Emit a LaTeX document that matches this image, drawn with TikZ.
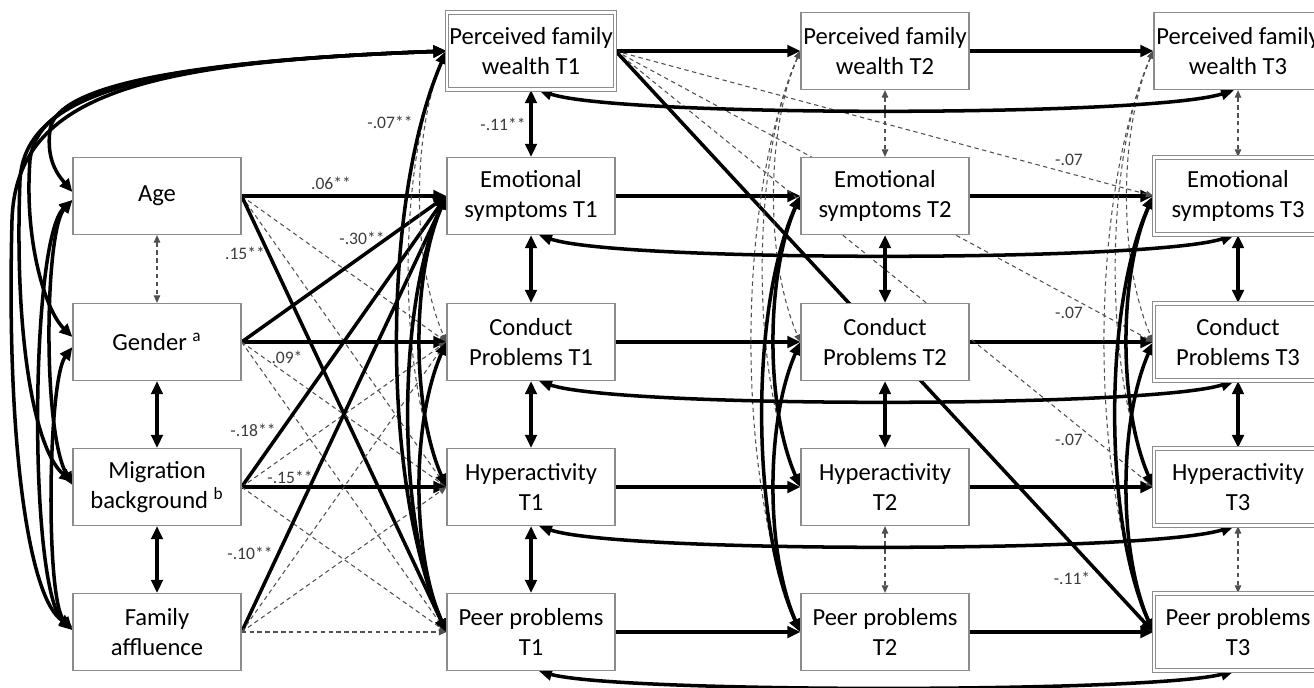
\documentclass[tikz,border=0pt]{standalone}
\usepackage{fontspec}
\setmainfont{Carlito}
\usepackage{tikz}
\usetikzlibrary{arrows.meta}
\usetikzlibrary{positioning,calc}
\definecolor{boxgray}{HTML}{8C8C8C}
\definecolor{nsgray}{HTML}{505050}
\definecolor{coefgray}{HTML}{3C3C3C}
\pgfdeclarelayer{bg}
\pgfsetlayers{bg,main}
\tikzset{
    var/.style={
        draw=boxgray,
        fill=white,
        line width=0.7pt,
        minimum width=3.36cm,
        minimum height=1.54cm,
        inner sep=1pt,
        align=center,
        font=\fontsize{14}{17}\selectfont
    },
    dvar/.style={
        var,
        double,
        double distance=1.2pt
    },
    regr/.style={
        draw,
        line width=2pt,
        -{Triangle[length=2.6mm, width=2.3mm]}
    },
    covar/.style={
        draw,
        line width=2pt,
        {Triangle[length=2.6mm, width=2.3mm]}-{Triangle[length=2.6mm, width=2.3mm]}
    },
    nsregr/.style={
        draw=nsgray,
        line width=0.6pt,
        dash pattern=on 2.5pt off 2pt,
        -{Triangle[length=1.5mm, width=1.3mm]}
    },
    nscovar/.style={
        draw=nsgray,
        line width=0.6pt,
        dash pattern=on 2.5pt off 2pt,
        {Triangle[length=1.5mm, width=1.3mm]}-{Triangle[length=1.5mm, width=1.3mm]}
    }
}

\begin{document}
\begin{tikzpicture}[
    x = 0.02cm,
    y = -0.02cm,
    coef/.style = {font=\fontsize{10}{12}\selectfont, text=coefgray, inner sep=0pt}
]
\useasboundingbox (0,0) rectangle (1314,687);
\clip (0,0) rectangle (1314,687);

% Covariates
\node[var] (age)    at (157,196) {Age};
\node[var] (gender) at (157,342) {Gender \textsuperscript{a}};
\node[var] (migr)   at (157,487) {Migration\\background \textsuperscript{b}};
\node[var] (affl)   at (157,632) {Family\\affluence};

% Wave 1
\node[dvar] (pfw1)  at (531,51)  {Perceived family\\wealth T1};
\node[var]  (emo1)  at (531,196) {Emotional\\symptoms T1};
\node[var]  (cond1) at (531,342) {Conduct\\Problems T1};
\node[var]  (hyp1)  at (531,487) {Hyperactivity\\T1};
\node[var]  (peer1) at (531,632) {Peer problems\\T1};

% Wave 2
\node[var] (pfw2)  at (885,51)  {Perceived family\\wealth T2};
\node[var] (emo2)  at (885,196) {Emotional\\symptoms T2};
\node[var] (cond2) at (885,342) {Conduct\\Problems T2};
\node[var] (hyp2)  at (885,487) {Hyperactivity\\T2};
\node[var] (peer2) at (885,632) {Peer problems\\T2};

% Wave 3
\node[var]  (pfw3)  at (1238,51)  {Perceived family\\wealth T3};
\node[dvar] (emo3)  at (1238,196) {Emotional\\symptoms T3};
\node[dvar] (cond3) at (1238,342) {Conduct\\Problems T3};
\node[dvar] (hyp3)  at (1238,487) {Hyperactivity\\T3};
\node[dvar] (peer3) at (1238,632) {Peer problems\\T3};

\begin{pgfonlayer}{bg}
% Covariates -> wave 1
\draw[regr]   (age.east) -- (emo1.west);
\draw[nsregr] (age.east) -- (cond1.west);
\draw[nsregr] (age.east) -- (hyp1.west);
\draw[regr]   (age.east) -- (peer1.west);
\draw[regr]   (gender.east) -- (emo1.west);
\draw[regr]   (gender.east) -- (cond1.west);
\draw[nsregr] (gender.east) -- (hyp1.west);
\draw[nsregr] (gender.east) -- (peer1.west);
\draw[regr]   (migr.east) -- (emo1.west);
\draw[nsregr] (migr.east) -- (cond1.west);
\draw[regr]   (migr.east) -- (hyp1.west);
\draw[nsregr] (migr.east) -- (peer1.west);
\draw[regr]   (affl.east) -- (emo1.west);
\draw[nsregr] (affl.east) -- (cond1.west);
\draw[nsregr] (affl.east) -- (hyp1.west);
\draw[nsregr] (affl.east) -- (peer1.west);

% Covariances among covariates
\draw[nscovar] (age) -- (gender);
\draw[covar] (gender) -- (migr);
\draw[covar] (migr) -- (affl);
\draw[covar] ($(age.west)+(0,4)$) .. controls (45,230) and (42,430) .. ($(migr.west)+(0,-2)$);
\draw[covar] ($(age.west)+(0,4)$) .. controls (30,240) and (28,590) .. ($(affl.west)+(0,-2)$);
\draw[covar] ($(gender.west)+(0,5)$) .. controls (48,380) and (45,600) .. ($(affl.west)+(0,-2)$);

% Perceived family wealth T1 with the covariates
\draw[covar] (pfw1.west) .. controls (150,62) and (55,92) .. (50,130) .. controls (46,160) and (58,175) .. ($(age.west)+(0,-4)$);
\draw[covar] (pfw1.west) .. controls (150,62) and (38,92) .. (30,160) .. controls (24,240) and (45,310) .. ($(gender.west)+(0,-5)$);
\draw[covar] (pfw1.west) .. controls (150,62) and (25,92) .. (20,180) .. controls (14,340) and (35,450) .. ($(migr.west)+(0,-5)$);
\draw[covar] (pfw1.west) .. controls (150,62) and (16,92) .. (12,220) .. controls (6,450) and (30,600) .. ($(affl.west)+(0,-5)$);

% Stability paths
\draw[regr] (pfw1.east) -- (pfw2.west);
\draw[regr] (emo1.east) -- (emo2.west);
\draw[regr] (cond1.east) -- (cond2.west);
\draw[regr] (hyp1.east) -- (hyp2.west);
\draw[regr] (peer1.east) -- (peer2.west);
\draw[regr] (pfw2.east) -- (pfw3.west);
\draw[regr] (emo2.east) -- (emo3.west);
\draw[regr] (cond2.east) -- (cond3.west);
\draw[regr] (hyp2.east) -- (hyp3.west);
\draw[regr] (peer2.east) -- (peer3.west);

% Perceived family wealth T1 -> wave 3
\draw[nsregr] (pfw1.east) -- (emo3.west);
\draw[nsregr] (pfw1.east) -- (cond3.west);
\draw[nsregr] (pfw1.east) -- (hyp3.west);
\draw[regr]   (pfw1.east) -- (peer3.west);

% Covariances within each wave
\draw[covar] (pfw1) -- (emo1);
\draw[covar] (emo1) -- (cond1);
\draw[covar] (cond1) -- (hyp1);
\draw[covar] (hyp1) -- (peer1);
\draw[nscovar] (pfw2) -- (emo2);
\draw[covar] (emo2) -- (cond2);
\draw[covar] (cond2) -- (hyp2);
\draw[nscovar] (hyp2) -- (peer2);
\draw[nscovar] (pfw3) -- (emo3);
\draw[covar] (emo3) -- (cond3);
\draw[covar] (cond3) -- (hyp3);
\draw[nscovar] (hyp3) -- (peer3);

% Non-adjacent covariances, wave 1
\draw[nscovar] (pfw1.west) .. controls +(-35,80) and +(-35,-80) .. (cond1.west);
\draw[nscovar] (pfw1.west) .. controls +(-50,110) and +(-50,-110) .. (hyp1.west);
\draw[covar] (pfw1.west) .. controls +(-65,150) and +(-65,-150) .. (peer1.west);
\draw[covar] (emo1.west) .. controls +(-35,80) and +(-35,-80) .. (hyp1.west);
\draw[covar] (emo1.west) .. controls +(-50,110) and +(-50,-110) .. (peer1.west);
\draw[covar] (cond1.west) .. controls +(-35,80) and +(-35,-80) .. (peer1.west);

% Non-adjacent covariances, wave 2
\draw[nscovar] (pfw2.west) .. controls +(-35,80) and +(-35,-80) .. (cond2.west);
\draw[nscovar] (pfw2.west) .. controls +(-50,110) and +(-50,-110) .. (hyp2.west);
\draw[nscovar] (pfw2.west) .. controls +(-65,150) and +(-65,-150) .. (peer2.west);
\draw[covar] (emo2.west) .. controls +(-35,80) and +(-35,-80) .. (hyp2.west);
\draw[covar] (emo2.west) .. controls +(-50,110) and +(-50,-110) .. (peer2.west);
\draw[covar] (cond2.west) .. controls +(-35,80) and +(-35,-80) .. (peer2.west);

% Non-adjacent covariances, wave 3
\draw[nscovar] (pfw3.west) .. controls +(-35,80) and +(-35,-80) .. (cond3.west);
\draw[nscovar] (pfw3.west) .. controls +(-50,110) and +(-50,-110) .. (hyp3.west);
\draw[nscovar] (pfw3.west) .. controls +(-65,150) and +(-65,-150) .. (peer3.west);
\draw[covar] (emo3.west) .. controls +(-35,80) and +(-35,-80) .. (hyp3.west);
\draw[covar] (emo3.west) .. controls +(-50,110) and +(-50,-110) .. (peer3.west);
\draw[covar] (cond3.west) .. controls +(-35,80) and +(-35,-80) .. (peer3.west);

% Wave 1 with wave 3
\draw[covar] ($(pfw1.south)+(8,0)$) .. controls +(80,27) and +(-85,27) .. ($(pfw3.south)+(-4,0)$);
\draw[covar] ($(emo1.south)+(8,0)$) .. controls +(80,27) and +(-85,27) .. ($(emo3.south)+(-4,0)$);
\draw[covar] ($(cond1.south)+(8,0)$) .. controls +(80,27) and +(-85,27) .. ($(cond3.south)+(-4,0)$);
\draw[covar] ($(hyp1.south)+(8,0)$) .. controls +(80,27) and +(-85,27) .. ($(hyp3.south)+(-4,0)$);
\draw[covar] ($(peer1.south)+(8,0)$) .. controls +(80,22) and +(-85,22) .. ($(peer3.south)+(-4,0)$);
\end{pgfonlayer}

% Coefficients
\node[coef] (cAgeEmo)   at (331,183)  {.06**};
\node[coef] (cGenEmo)   at (362,238)  {-.30**};
\node[coef] (cAgePeer)  at (245,253)  {.15**};
\node[coef] (cGenCond)  at (287,357)  {.09*};
\node[coef] (cMigEmo)   at (253,430)  {-.18**};
\node[coef] (cMigHyp)   at (290,477)  {-.15**};
\node[coef] (cAffEmo)   at (250,553)  {-.10**};
\node[coef] (cPfwPeer)  at (390,122)  {-.07**};
\node[coef] (cPfwEmo)   at (503,124)  {-.11**};
\node[coef] (cPfwEmo3)  at (1069,160) {-.07};
\node[coef] (cPfwCond3) at (1069,313) {-.07};
\node[coef] (cPfwHyp3)  at (1069,440) {-.07};
\node[coef] (cPfwPeer3) at (1072,578) {-.11*};

\end{tikzpicture}
\end{document}
